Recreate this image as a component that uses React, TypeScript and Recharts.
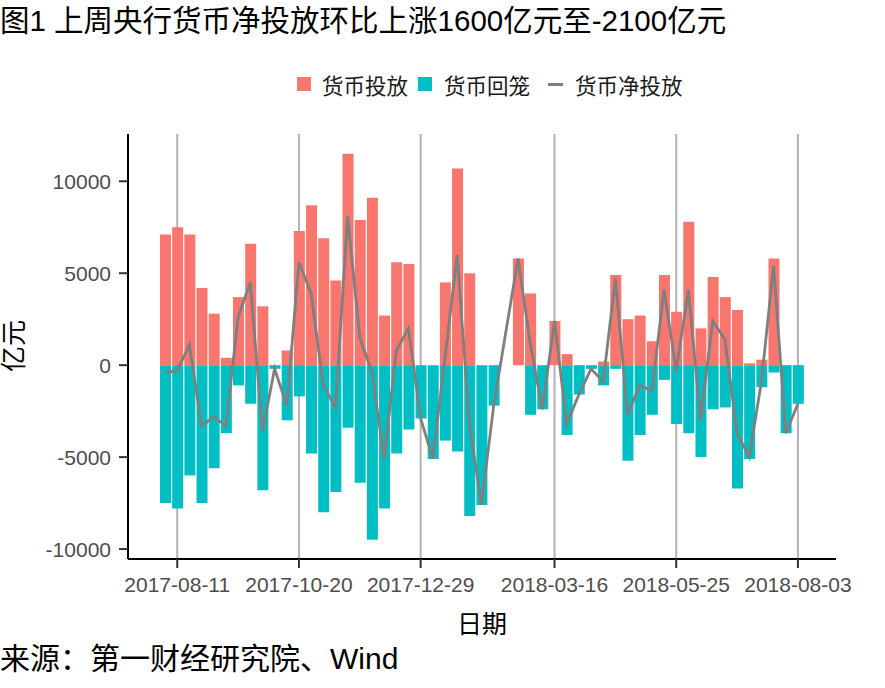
import { ComposedChart, Bar, Line, XAxis, YAxis, CartesianGrid } from 'recharts';

// weekly dates (Friday), 2018-02-16 has no data
const dates = [
  '2017-08-04', '2017-08-11', '2017-08-18', '2017-08-25', '2017-09-01', '2017-09-08', '2017-09-15',
  '2017-09-22', '2017-09-29', '2017-10-06', '2017-10-13', '2017-10-20', '2017-10-27', '2017-11-03',
  '2017-11-10', '2017-11-17', '2017-11-24', '2017-12-01', '2017-12-08', '2017-12-15', '2017-12-22',
  '2017-12-29', '2018-01-05', '2018-01-12', '2018-01-19', '2018-01-26', '2018-02-02', '2018-02-09',
  '2018-02-16', '2018-02-23', '2018-03-02', '2018-03-09', '2018-03-16', '2018-03-23', '2018-03-30',
  '2018-04-06', '2018-04-13', '2018-04-20', '2018-04-27', '2018-05-04', '2018-05-11', '2018-05-18',
  '2018-05-25', '2018-06-01', '2018-06-08', '2018-06-15', '2018-06-22', '2018-06-29', '2018-07-06',
  '2018-07-13', '2018-07-20', '2018-07-27', '2018-08-03',
];

// 货币投放
const injection = [
  7100, 7500, 7100, 4200, 2800, 400, 3700, 6600, 3200, 0, 800, 7300, 8700, 6900,
  4600, 11500, 7900, 9100, 2700, 5600, 5500, 0, 0, 4500, 10700, 5000, 0, 0,
  null, 5800, 3900, 0, 2400, 600, 0, 0, 200, 4900, 2500, 2700, 1300, 4900,
  2900, 7800, 2000, 4800, 3700, 3000, 100, 300, 5800, 0, 0,
];

// 货币回笼
const withdrawal = [
  -7500, -7800, -6000, -7500, -5600, -3700, -1100, -2100, -6800, -200, -3000, -1700, -4800, -8000,
  -6900, -3400, -6400, -9500, -7800, -4800, -3500, -2900, -5100, -4100, -4700, -8200, -7600, -2200,
  null, 0, -2700, -2400, 0, -3800, -1600, -200, -1100, -200, -5200, -3800, -2700, -800,
  -3200, -3700, -5000, -2400, -2300, -6700, -5100, -1200, -400, -3700, -2100,
];

// 货币净投放
const net = [
  -400, -300, 1100, -3300, -2800, -3300, 2600, 4500, -3600, -200, -2200, 5600, 3900, -1100,
  -2300, 8100, 1500, -400, -5100, 800, 2000, -2900, -5100, 400, 6000, -3200, -7600, -2200,
  null, 5800, 1200, -2400, 2400, -3200, -1600, -200, -900, 4700, -2700, -1100, -1400, 4100,
  -300, 4100, -3000, 2400, 1400, -3700, -5000, -900, 5400, -3700, -2100,
];

const xTicks = ['2017-08-11', '2017-10-20', '2017-12-29', '2018-03-16', '2018-05-25', '2018-08-03'];
const yTicks = [-10000, -5000, 0, 5000, 10000];

const data = dates.map((d, i) => ({ date: d, inj: injection[i], wd: withdrawal[i], net: net[i] }));

const latin = '"Liberation Sans", Arial, "Noto Sans CJK SC", sans-serif';
const RED = '#F8766D';
const TEAL = '#00BFC4';
const GREY = '#7f7f7f';

export default function App() {
  return (
    <div style={{ position: 'absolute', left: 0, top: 0, width: 885, height: 688, background: '#fff', fontFamily: latin }}>
      <div style={{ position: 'absolute', left: 0, top: 6, fontSize: 29.5, lineHeight: '30px', color: '#000', whiteSpace: 'nowrap' }}>
        图1 上周央行货币净投放环比上涨1600亿元至-2100亿元
      </div>

      <div style={{ position: 'absolute', left: 297, top: 72, height: 24, display: 'flex', alignItems: 'center', fontSize: 21.5, color: '#1a1a1a', whiteSpace: 'nowrap' }}>
        <span style={{ width: 14, height: 14, background: RED, marginRight: 11 }} />
        <span style={{ marginRight: 10 }}>货币投放</span>
        <span style={{ width: 14, height: 14, background: TEAL, marginRight: 12 }} />
        <span style={{ marginRight: 18 }}>货币回笼</span>
        <span style={{ width: 15, height: 3, background: GREY, marginRight: 12 }} />
        <span>货币净投放</span>
      </div>

      <ComposedChart
        width={885}
        height={688}
        data={data}
        stackOffset="sign"
        margin={{ top: 134, right: 49, bottom: 69, left: 68 }}
        style={{ position: 'absolute', left: 0, top: 0 }}
      >
        <CartesianGrid horizontal={false} stroke="#b3b3b3" strokeWidth={2} syncWithTicks />
        <XAxis
          dataKey="date"
          ticks={xTicks}
          interval={0}
          height={60}
          padding={{ left: 31, right: 32 }}
          axisLine={{ stroke: '#000', strokeWidth: 2 }}
          tickLine={{ stroke: '#333', strokeWidth: 2 }}
          tickSize={9}
          tickMargin={9}
          tick={{ fill: '#4d4d4d', fontSize: 21, fontFamily: latin }}
        />
        <YAxis
          width={60}
          domain={[-10540, 12570]}
          ticks={yTicks}
          interval={0}
          allowDataOverflow
          axisLine={{ stroke: '#000', strokeWidth: 2 }}
          tickLine={{ stroke: '#333', strokeWidth: 2 }}
          tickSize={9}
          tickMargin={8}
          tick={{ fill: '#4d4d4d', fontSize: 21, fontFamily: latin }}
        />
        <Bar dataKey="inj" stackId="s" fill={RED} barSize={11} isAnimationActive={false} />
        <Bar dataKey="wd" stackId="s" fill={TEAL} barSize={11} isAnimationActive={false} />
        <Line dataKey="net" type="linear" stroke={GREY} strokeWidth={2.8} dot={false} connectNulls isAnimationActive={false} />
      </ComposedChart>

      <div style={{ position: 'absolute', left: 14, top: 345.5, transform: 'translate(-50%, -50%) rotate(-90deg)', fontSize: 26, lineHeight: '26px', color: '#000', whiteSpace: 'nowrap' }}>
        亿元
      </div>
      <div style={{ position: 'absolute', left: 482, top: 623.5, transform: 'translate(-50%, -50%)', fontSize: 25, lineHeight: '25px', color: '#000', whiteSpace: 'nowrap' }}>
        日期
      </div>
      <div style={{ position: 'absolute', left: 0, top: 644, fontSize: 30, lineHeight: '30px', color: '#000', whiteSpace: 'nowrap' }}>
        来源：第一财经研究院、Wind
      </div>
    </div>
  );
}
